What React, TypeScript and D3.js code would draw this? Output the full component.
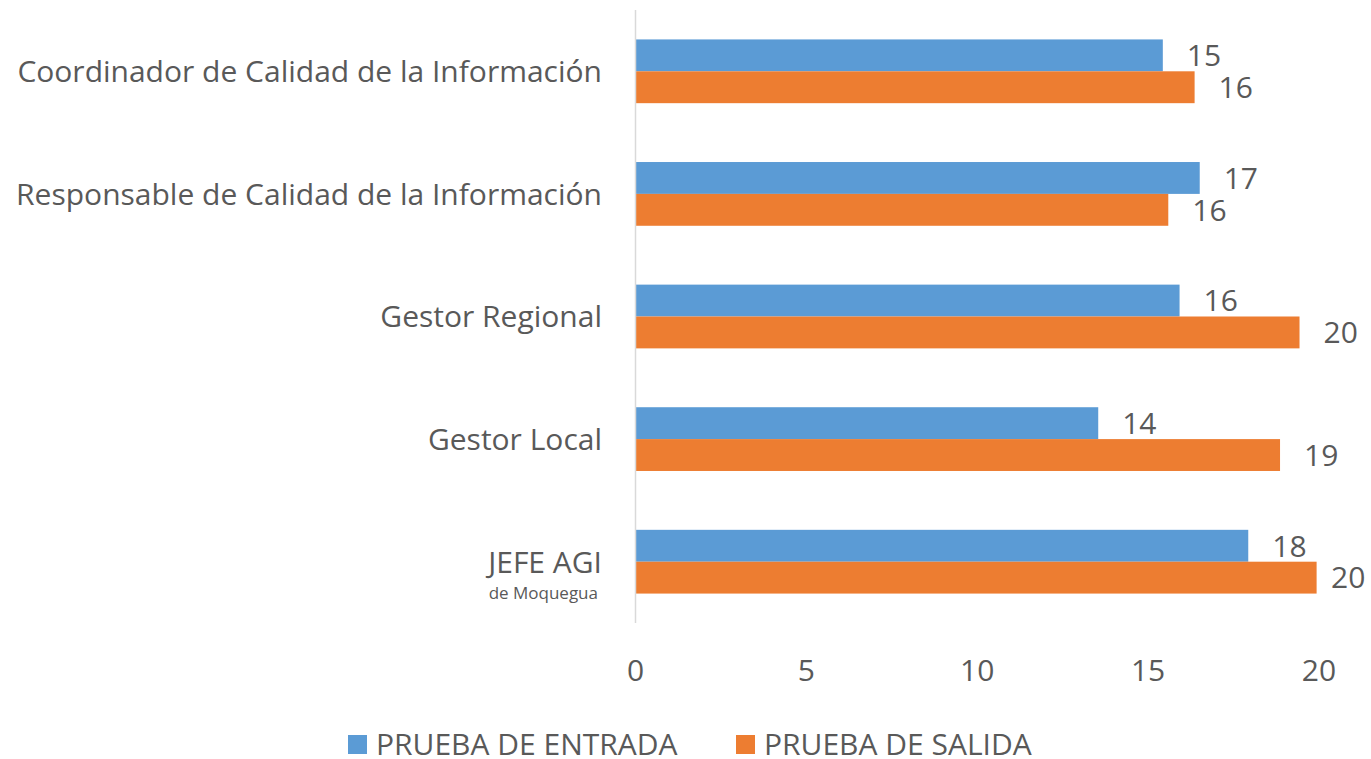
import React from "react";
import * as d3 from "d3";

const categories = [
  "Coordinador de Calidad de la Información",
  "Responsable de Calidad de la Información",
  "Gestor Regional",
  "Gestor Local",
  "JEFE AGI",
];
const subLabels = ["", "", "", "", "de Moquegua"];
const series = ["PRUEBA DE ENTRADA", "PRUEBA DE SALIDA"];
const entradaValues = [15.43, 16.51, 15.92, 13.54, 17.93];
const salidaValues = [16.36, 15.59, 19.43, 18.86, 19.93];
const entradaLabels = ["15", "17", "16", "14", "18"];
const salidaLabels = ["16", "16", "20", "19", "20"];
const xTicks = [0, 5, 10, 15, 20];
const colors = ["#5B9BD5", "#ED7D31"];

const W = 1371;
const H = 759;
const FONT = "'Open Sans', 'Noto Sans', sans-serif";
const TEXT = "#595959";
const FS = 30;

export default function App() {
  const x = d3.scaleLinear().domain([0, 20]).range([635.5, 1319]);
  const y = d3
    .scaleBand<string>()
    .domain(categories)
    .range([10, 623])
    .paddingInner(0.48)
    .paddingOuter(0.24);
  const inner = d3
    .scaleBand<string>()
    .domain(series)
    .range([0, y.bandwidth()]);
  const valuesBySeries = [entradaValues, salidaValues];
  const labelsBySeries = [entradaLabels, salidaLabels];

  return (
    <svg
      width={W}
      height={H}
      style={{ position: "absolute", left: 0, top: 0, background: "#fff" }}
      fontFamily={FONT}
    >
      {categories.map((c, i) => (
        <g key={c}>
          {series.map((s, si) => {
            const v = valuesBySeries[si][i];
            const y0 = (y(c) as number) + (inner(s) as number);
            return (
              <g key={s}>
                <rect
                  x={x(0)}
                  y={y0}
                  width={x(v) - x(0)}
                  height={inner.bandwidth()}
                  fill={colors[si]}
                />
                <text
                  x={Math.min(x(v) + 24, 1331)}
                  y={y0 + inner.bandwidth() / 2}
                  dy="0.36em"
                  fontSize={FS}
                  fill={TEXT}
                >
                  {labelsBySeries[si][i]}
                </text>
              </g>
            );
          })}
          <text
            x={602}
            y={(y(c) as number) + y.bandwidth() / 2}
            dy="0.36em"
            textAnchor="end"
            fontSize={FS}
            fill={TEXT}
          >
            {c}
          </text>
          {subLabels[i] && (
            <text
              x={598}
              y={(y(c) as number) + y.bandwidth() / 2 + 31}
              dy="0.36em"
              textAnchor="end"
              fontSize={17}
              fill={TEXT}
            >
              {subLabels[i]}
            </text>
          )}
        </g>
      ))}
      <line x1={x(0)} x2={x(0)} y1={10} y2={623} stroke="#d9d9d9" strokeWidth={1.5} />
      {xTicks.map((t) => (
        <text
          key={t}
          x={x(t)}
          y={670}
          dy="0.36em"
          textAnchor="middle"
          fontSize={FS}
          fill={TEXT}
        >
          {t}
        </text>
      ))}
      {series.map((s, si) => {
        const lx = [348, 736][si];
        return (
          <g key={s}>
            <rect x={lx} y={735} width={19} height={19} fill={colors[si]} />
            <text x={lx + 28} y={744} dy="0.36em" fontSize={FS} fill={TEXT}>
              {s}
            </text>
          </g>
        );
      })}
    </svg>
  );
}
